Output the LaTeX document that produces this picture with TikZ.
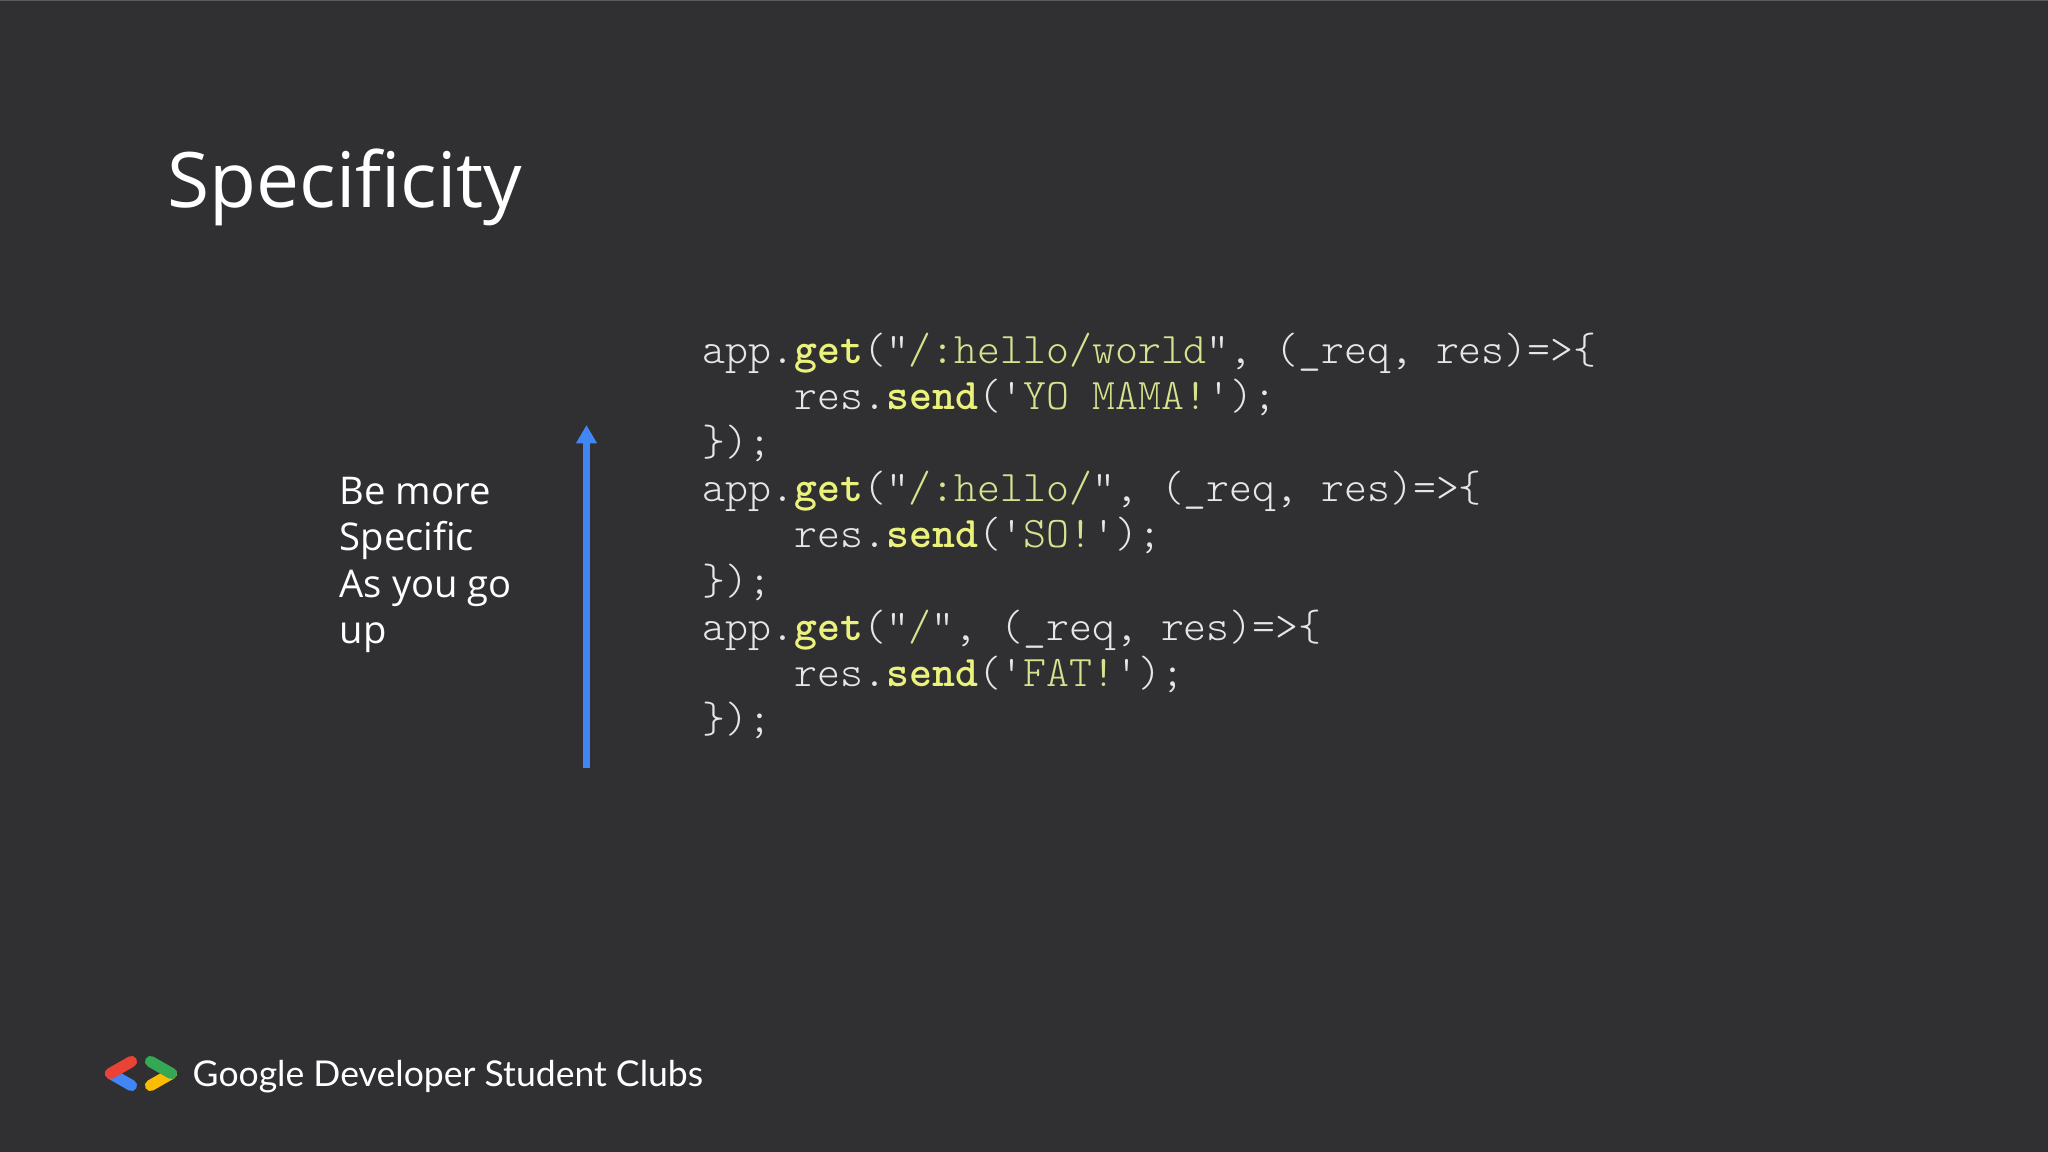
\documentclass[tikz,border=0pt]{standalone}
\usepackage{fontspec}
\setmainfont{Open Sans}
\setmonofont{Latin Modern Mono Light}
\newfontfamily\footfont{Lato}
\usetikzlibrary{arrows.meta}
\definecolor{slidebg}{HTML}{303033}
\definecolor{topline}{HTML}{5A5A5C}
\definecolor{codewhite}{HTML}{E6E6E6}
\definecolor{codekey}{HTML}{EAF27C}
\definecolor{codestr}{HTML}{D5E38F}
\definecolor{gblue}{HTML}{4285F4}
\definecolor{gred}{HTML}{EA4335}
\definecolor{ggreen}{HTML}{34A853}
\definecolor{gyellow}{HTML}{FBBC04}
\newcommand{\kw}[1]{\textcolor{codekey}{\bfseries #1}}
\newcommand{\st}[1]{\textcolor{codestr}{#1}}
\tikzset{
  codeline/.style={anchor=base west,inner sep=0pt,text=codewhite,font=\fontsize{12.42}{14}\ttfamily},
  logobar/.style={line width=3.2pt,line cap=round}
}
\begin{document}
\begin{tikzpicture}
      \useasboundingbox[fill=slidebg] (0,0) rectangle (20.48,-11.52);
      \draw[topline,line width=0.5pt] (0,-0.005) -- (20.48,-0.005);
      \draw
        (1.67,-2.08) node[anchor=base west,inner sep=0pt,text=white,font=\fontsize{21.8}{26}\selectfont] (title){Specificity}
        (3.39,-5.65) node[anchor=west,inner sep=0pt,text=white,align=left,font=\fontsize{10.87}{13.2}\selectfont] (hint){Be more\\Specific\\As you go\\up};
      \coordinate (tail) at (5.865,-7.68);
      \coordinate (tip) at (5.865,-4.25);
      \draw[gblue,line width=2pt,-{Triangle[length=5.2pt,width=5.6pt]}] (tail) -- (tip);
      \draw
        (7.02,-3.636) node[codeline] (a1){app.\kw{get}("\st{/:hello/world}", (\_req, res)=>\{}
        (7.94,-4.097) node[codeline] (a2){res.\kw{send}('\st{YO MAMA!}');}
        (7.02,-4.558) node[codeline] (a3){\});}
        (7.02,-5.019) node[codeline] (b1){app.\kw{get}("\st{/:hello/}", (\_req, res)=>\{}
        (7.94,-5.48) node[codeline] (b2){res.\kw{send}('\st{SO!}');}
        (7.02,-5.941) node[codeline] (b3){\});}
        (7.02,-6.402) node[codeline] (c1){app.\kw{get}("\st{/}", (\_req, res)=>\{}
        (7.94,-6.863) node[codeline] (c2){res.\kw{send}('\st{FAT!}');}
        (7.02,-7.324) node[codeline] (c3){\});};
      % logo
      \draw[logobar,gblue] (1.105,-10.735) -- (1.315,-10.855);
      \draw[logobar,gred] (1.315,-10.615) -- (1.105,-10.735);
      \draw[logobar,gyellow] (1.715,-10.735) -- (1.505,-10.855);
      \draw[logobar,ggreen] (1.505,-10.615) -- (1.715,-10.735);
      \draw
        (1.92,-10.86) node[anchor=base west,inner sep=0pt,text=white,font=\fontsize{10.12}{12}\footfont] (clubs){Google Developer Student Clubs};
    \end{tikzpicture}
\end{document}
